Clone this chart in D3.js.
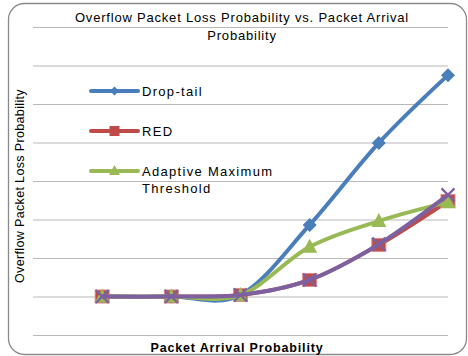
<!DOCTYPE html>
<html>
<head>
<meta charset="utf-8">
<script src="https://cdn.jsdelivr.net/npm/d3@7"></script>
<style>
  html, body { margin: 0; padding: 0; background: #ffffff; }
  svg text { font-family: "Liberation Sans", Arial, sans-serif; fill: #000; }
</style>
</head>
<body>
<svg id="chart" width="468" height="356"></svg>
<script>
// Packet arrival steps (1..6) and overflow loss probability per queue policy
const arrivalSteps = [1, 2, 3, 4, 5, 6];
const dropTail   = [0.100, 0.100, 0.104, 0.286, 0.499, 0.675];
const red        = [0.100, 0.100, 0.104, 0.143, 0.234, 0.348];
const adaptive   = [0.100, 0.100, 0.104, 0.229, 0.296, 0.345];
const fourthSeries = [0.100, 0.100, 0.104, 0.143, 0.236, 0.364];
const gridValues = [0, 0.1, 0.2, 0.3, 0.4, 0.5, 0.6, 0.7, 0.8];

const titleLines = ["Overflow Packet Loss Probability vs. Packet Arrival", "Probability"];
const xTitle = "Packet Arrival Probability";
const yTitle = "Overflow Packet Loss Probability";

const svg = d3.select("#chart");

// chart frame with rounded corners
svg.append("rect")
  .attr("x", 8.5).attr("y", 3.5)
  .attr("width", 458).attr("height", 351)
  .attr("rx", 16).attr("ry", 16)
  .attr("fill", "#fff")
  .attr("stroke", "#8a8a8a")
  .attr("stroke-width", 1.3);

const plot = { left: 33, right: 448, top: 27, bottom: 335 };

const x = d3.scaleLinear().domain([0, 6]).range([plot.left, plot.right]);
const y = d3.scaleLinear().domain([0, 0.8]).range([plot.bottom, plot.top]);

// horizontal gridlines
const gridAxis = d3.axisLeft(y).tickValues(gridValues)
  .tickSize(-(plot.right - plot.left)).tickFormat("");
const g = svg.append("g").attr("transform", `translate(${plot.left},0)`).call(gridAxis);
g.select(".domain").remove();
g.selectAll(".tick line").attr("stroke", "#b8b8b8").attr("stroke-width", 1.2);

// titles
svg.append("text")
  .attr("x", 242).attr("y", 21.5)
  .attr("text-anchor", "middle")
  .style("font-size", "13px")
  .style("letter-spacing", "0.8px")
  .text(titleLines[0]);
svg.append("text")
  .attr("x", 242).attr("y", 40)
  .attr("text-anchor", "middle")
  .style("font-size", "13px")
  .style("letter-spacing", "0.8px")
  .text(titleLines[1]);

svg.append("text")
  .attr("x", 237).attr("y", 351.5)
  .attr("text-anchor", "middle")
  .style("font-size", "12.5px")
  .style("font-weight", "bold")
  .style("letter-spacing", "0.85px")
  .text(xTitle);

svg.append("text")
  .attr("transform", "translate(24,186) rotate(-90)")
  .attr("text-anchor", "middle")
  .style("font-size", "12.5px")
  .style("letter-spacing", "0.35px")
  .text(yTitle);

const line = d3.line()
  .x((d, i) => x(arrivalSteps[i]))
  .y(d => y(d))
  .curve(d3.curveCardinal.tension(0));

const series = [
  { name: "Drop-tail", values: dropTail, color: "#4a7ebb", marker: "diamond" },
  { name: "RED", values: red, color: "#be4b48", marker: "square" },
  { name: "Adaptive Maximum Threshold", values: adaptive, color: "#98b954", marker: "triangle" },
  { name: "", values: fourthSeries, color: "#7d60a0", marker: "x" }
];

function drawMarker(sel, type, color, cx, cy) {
  if (type === "diamond") {
    sel.append("path")
      .attr("d", `M${cx},${cy - 7}L${cx + 7},${cy}L${cx},${cy + 7}L${cx - 7},${cy}Z`)
      .attr("fill", color);
  } else if (type === "square") {
    sel.append("rect")
      .attr("x", cx - 7).attr("y", cy - 6.5).attr("width", 14).attr("height", 13)
      .attr("fill", color).attr("stroke", "#d98e8c").attr("stroke-width", 1);
  } else if (type === "triangle") {
    sel.append("path")
      .attr("d", `M${cx},${cy - 8}L${cx + 7.5},${cy + 6}L${cx - 7.5},${cy + 6}Z`)
      .attr("fill", color);
  } else if (type === "x") {
    sel.append("path")
      .attr("d", `M${cx - 6.5},${cy - 6.5}L${cx + 6.5},${cy + 6.5}M${cx + 6.5},${cy - 6.5}L${cx - 6.5},${cy + 6.5}`)
      .attr("stroke", color).attr("stroke-width", 2.2).attr("fill", "none");
  }
}

series.forEach(s => {
  const grp = svg.append("g");
  grp.append("path")
    .datum(s.values)
    .attr("d", line)
    .attr("fill", "none")
    .attr("stroke", s.color)
    .attr("stroke-width", 4)
    .attr("stroke-linejoin", "round")
    .attr("stroke-linecap", "round");
  s.values.forEach((v, i) => drawMarker(grp, s.marker, s.color, x(arrivalSteps[i]), y(v)));
});

// legend (first three series)
const legendRows = [
  { s: series[0], y: 91, lines: ["Drop-tail"] },
  { s: series[1], y: 131, lines: ["RED"] },
  { s: series[2], y: 171, lines: ["Adaptive Maximum", "Threshold"] }
];
legendRows.forEach(r => {
  const lg = svg.append("g");
  lg.append("line")
    .attr("x1", 91).attr("x2", 138).attr("y1", r.y).attr("y2", r.y)
    .attr("stroke", r.s.color).attr("stroke-width", 4).attr("stroke-linecap", "round");
  const cx = 114.5, cy = r.y;
  if (r.s.marker === "diamond") {
    lg.append("path").attr("d", `M${cx},${cy - 4.5}L${cx + 4.5},${cy}L${cx},${cy + 4.5}L${cx - 4.5},${cy}Z`).attr("fill", r.s.color);
  } else if (r.s.marker === "square") {
    lg.append("rect").attr("x", cx - 5).attr("y", cy - 5).attr("width", 10).attr("height", 10).attr("fill", r.s.color);
  } else {
    lg.append("path").attr("d", `M${cx},${cy - 6}L${cx + 5.5},${cy + 4}L${cx - 5.5},${cy + 4}Z`).attr("fill", r.s.color);
  }
  r.lines.forEach((t, k) => {
    lg.append("text")
      .attr("x", 142).attr("y", r.y + 5 + k * 17)
      .style("font-size", "13px")
      .style("letter-spacing", "1.3px")
      .text(t);
  });
});
</script>
</body>
</html>
